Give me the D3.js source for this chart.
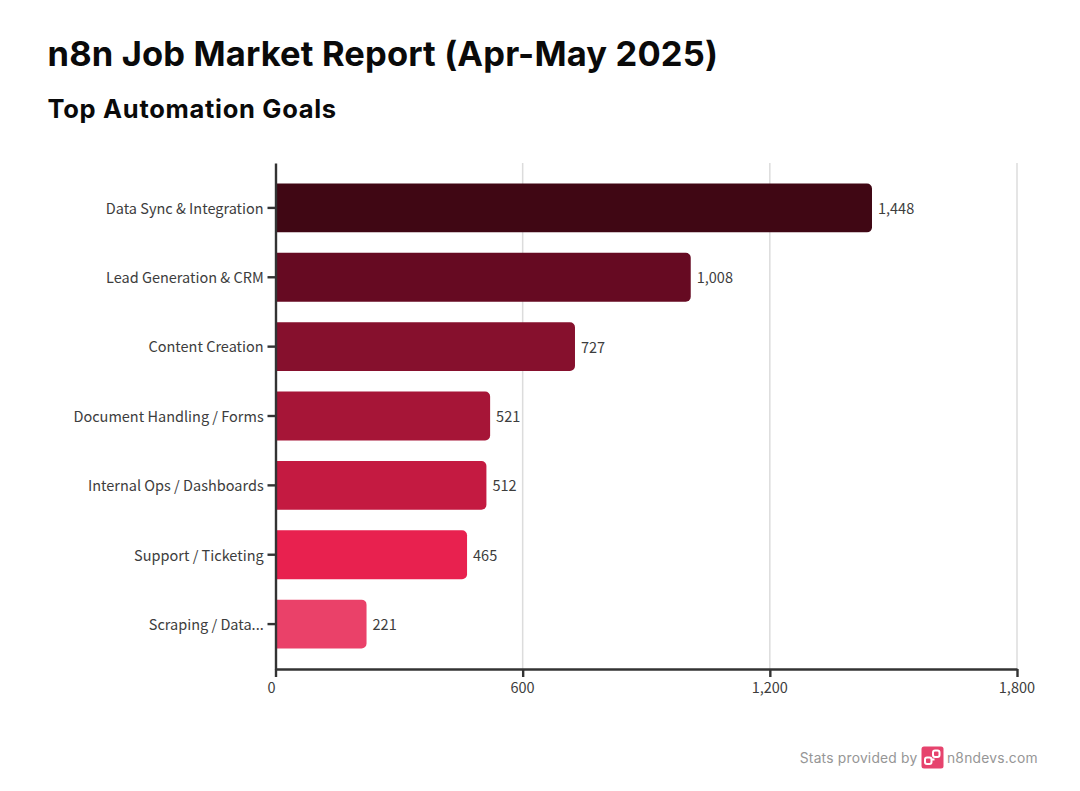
<!DOCTYPE html>
<html>
<head>
<meta charset="utf-8">
<script src="https://cdn.jsdelivr.net/npm/d3@7/dist/d3.min.js"></script>
<style>
html,body{margin:0;padding:0;background:#fff;}
svg{display:block;}
</style>
</head>
<body>
<svg id="chart" width="1080" height="791"></svg>
<script>
const categories = ["Data Sync & Integration","Lead Generation & CRM","Content Creation","Document Handling / Forms","Internal Ops / Dashboards","Support / Ticketing","Scraping / Data..."];
const values = [1448,1008,727,521,512,465,221];
const barColors = ["#400714","#660a22","#86102d","#a61537","#c41a41","#e8214f","#ea4169"];
const xTicks = [0,600,1200,1800];
const titleText = "n8n Job Market Report (Apr-May 2025)";
const subtitleText = "Top Automation Goals";
const footerLeft = "Stats provided by";
const footerRight = "n8ndevs.com";

const labelFont = "'Noto Sans CJK SC','Noto Sans',sans-serif";
const headFont = "Inter,'Open Sans',sans-serif";
const inkAxis = "#333333";
const inkText = "#3d3d3d";

const svg = d3.select("#chart");
const m = {left:275.5,right:1017,top:163,bottom:669};
const x = d3.scaleLinear().domain([0,1800]).range([m.left,m.right]);
const y = d3.scaleBand().domain(categories).range([m.top,m.bottom]).padding(0.295);

svg.append("text").attr("x",47.5).attr("y",66).attr("font-family",headFont).attr("font-weight",700)
  .attr("font-size",34.5).attr("letter-spacing",0.15).attr("fill","#0a0a0a").text(titleText);
svg.append("text").attr("x",47.5).attr("y",118).attr("font-family",headFont).attr("font-weight",700)
  .attr("font-size",25.5).attr("letter-spacing",0.7).attr("fill","#0a0a0a").text(subtitleText);

// grid
svg.append("g").selectAll("line").data(xTicks.slice(1)).join("line")
  .attr("x1",d=>x(d)).attr("x2",d=>x(d)).attr("y1",m.top).attr("y2",m.bottom)
  .attr("stroke","#dcdcdc").attr("stroke-width",1.5);

// bars: square on the axis side, rounded on the value side
const r = 5;
svg.append("g").selectAll("path").data(values).join("path")
  .attr("fill",(d,i)=>barColors[i])
  .attr("d",(d,i)=>{
    const p = d3.path();
    const x0=x(0), x1=x(d), y0=y(categories[i]), y1=y0+y.bandwidth();
    p.moveTo(x0,y0);
    p.lineTo(x1-r,y0);
    p.arcTo(x1,y0,x1,y0+r,r);
    p.lineTo(x1,y1-r);
    p.arcTo(x1,y1,x1-r,y1,r);
    p.lineTo(x0,y1);
    p.closePath();
    return p.toString();
  });

// value labels
svg.append("g").selectAll("text").data(values).join("text")
  .attr("x",d=>x(d)+6).attr("y",(d,i)=>y(categories[i])+y.bandwidth()/2+0.8)
  .attr("dy","0.36em").attr("font-family",labelFont).attr("font-size",14.5).attr("fill",inkText)
  .text(d=>d3.format(",")(d));

// axes
const xAxis = d3.axisBottom(x).tickValues(xTicks).tickFormat(d3.format(",")).tickSize(8).tickSizeOuter(0).tickPadding(5.5);
const gx = svg.append("g").attr("transform",`translate(0,${m.bottom})`).call(xAxis);
const yAxis = d3.axisLeft(y).tickSize(8).tickSizeOuter(0).tickPadding(3);
const gy = svg.append("g").attr("transform",`translate(${m.left},0)`).call(yAxis);
[gx,gy].forEach(g=>{
  g.select(".domain").attr("stroke",inkAxis).attr("stroke-width",2.4);
  g.selectAll(".tick line").attr("stroke",inkAxis).attr("stroke-width",2.4);
  g.selectAll("text").attr("font-family",labelFont).attr("font-size",14.5).attr("fill",inkText);
});
gy.selectAll(".tick text").attr("dx",-0.8).attr("dy","0.40em");
gx.selectAll(".tick text").attr("dx",-0.6);
gx.selectAll(".tick").filter(d=>d===0).select("text").attr("dx",-4.5);

// footer
svg.append("text").attr("x",917.5).attr("y",762.5).attr("text-anchor","end").attr("font-family",headFont)
  .attr("font-size",13.8).attr("letter-spacing",0.22).attr("fill","#969696").text(footerLeft);
svg.append("text").attr("x",947).attr("y",762.5).attr("font-family",headFont)
  .attr("font-size",13.8).attr("letter-spacing",0.22).attr("fill","#969696").text(footerRight);
const logo = svg.append("g").attr("transform","translate(921.5,746.5)");
logo.append("rect").attr("width",22).attr("height",22).attr("rx",2.5).attr("fill","#e6436d");
logo.append("rect").attr("x",3.5).attr("y",11).attr("width",6.5).attr("height",6.5).attr("rx",2).attr("fill","none").attr("stroke","#fff").attr("stroke-width",2);
logo.append("rect").attr("x",11.5).attr("y",4).attr("width",6.5).attr("height",6.5).attr("rx",2).attr("fill","none").attr("stroke","#fff").attr("stroke-width",2);
logo.append("line").attr("x1",10).attr("y1",13).attr("x2",13).attr("y2",13).attr("stroke","#fff").attr("stroke-width",2);
</script>
</body>
</html>
